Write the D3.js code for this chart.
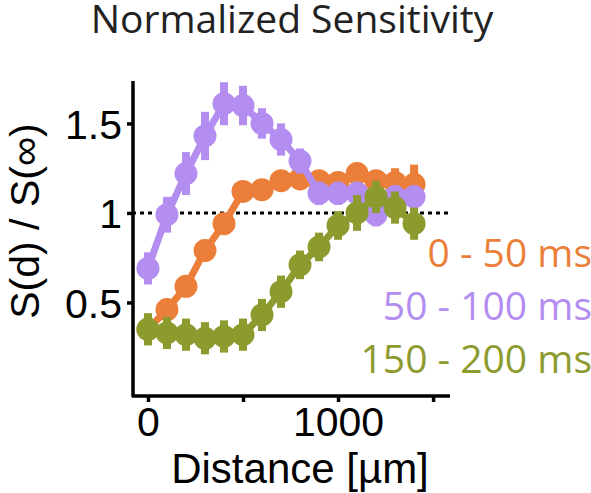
<!DOCTYPE html>
<html><head><meta charset="utf-8">
<script src="https://cdn.jsdelivr.net/npm/d3@7"></script>
<style>body{margin:0;background:#fff}svg{display:block}</style>
</head><body>
<svg id="c" width="591" height="493"></svg>
<script>
const distances = [0,100,200,300,400,500,600,700,800,900,1000,1100,1200,1300,1400];
const seriesNames = ["0 - 50 ms","50 - 100 ms","150 - 200 ms"];
const seriesColors = ["#EB7F3A","#B38DF0","#8C9A2E"];
const orangeVals = [0.35,0.46,0.59,0.79,0.94,1.12,1.13,1.18,1.19,1.18,1.17,1.22,1.18,1.17,1.16];
const orangeErr  = [0.05,0.05,0.06,0.06,0.06,0.05,0.05,0.05,0.05,0.05,0.05,0.06,0.06,0.08,0.11];
const purpleVals = [0.69,0.99,1.22,1.43,1.61,1.60,1.50,1.41,1.29,1.11,1.11,1.11,0.99,1.09,1.09];
const purpleErr  = [0.09,0.1,0.12,0.135,0.12,0.11,0.085,0.09,0.07,0.065,0.065,0.065,0.065,0.065,0.065];
const oliveVals  = [0.35,0.33,0.32,0.30,0.31,0.32,0.43,0.56,0.71,0.81,0.93,1.00,1.09,1.03,0.94];
const oliveErr   = [0.09,0.09,0.09,0.09,0.09,0.09,0.09,0.09,0.08,0.08,0.08,0.1,0.09,0.09,0.09];
const xTicks = [0,500,1000,1500];
const xTickLabels = ["0","","1000",""];
const yTicks = [0.5,1,1.5];
const yTickLabels = ["0.5","1","1.5"];

const svg = d3.select("#c");
const x = d3.scaleLinear().domain([-84,1589]).range([132,450]);
const y = d3.scaleLinear().domain([-0.017,1.737]).range([395,81]);

const series = [
  {name:seriesNames[0], color:seriesColors[0], v:orangeVals, e:orangeErr},
  {name:seriesNames[1], color:seriesColors[1], v:purpleVals, e:purpleErr},
  {name:seriesNames[2], color:seriesColors[2], v:oliveVals, e:oliveErr}
];

// reference line at 1
svg.append("line").attr("x1",x(-84)).attr("x2",x(1589)).attr("y1",y(1)).attr("y2",y(1))
  .attr("stroke","#000").attr("stroke-width",3).attr("stroke-dasharray","4,4");

const line = d3.line().x((d,i)=>x(distances[i])).y(d=>y(d));
series.forEach(s=>{
  const g = svg.append("g");
  g.append("path").attr("d",line(s.v)).attr("fill","none").attr("stroke",s.color).attr("stroke-width",7);
  g.selectAll("line.err").data(s.v).enter().append("line")
    .attr("x1",(d,i)=>x(distances[i])).attr("x2",(d,i)=>x(distances[i]))
    .attr("y1",(d,i)=>y(d - s.e[i])).attr("y2",(d,i)=>y(d + s.e[i]))
    .attr("stroke",s.color).attr("stroke-width",8);
  g.selectAll("circle").data(s.v).enter().append("circle")
    .attr("cx",(d,i)=>x(distances[i])).attr("cy",d=>y(d)).attr("r",11.5).attr("fill",s.color);
});

const axisFont = "'Liberation Sans', Arial, Helvetica, sans-serif";
// axes
const xAxis = d3.axisBottom(x).tickValues(xTicks).tickFormat((d,i)=>xTickLabels[i]).tickSize(6).tickPadding(5);
const gx = svg.append("g").attr("transform","translate(0,396)").call(xAxis);
gx.select(".domain").attr("d",`M${x(-84)},0H${x(1589)}`).attr("stroke-width",3.5);
gx.selectAll(".tick line").attr("stroke-width",3.5);
gx.selectAll("text").attr("font-family",axisFont).attr("font-size",41).attr("fill","#000");

const yAxis = d3.axisLeft(y).tickValues(yTicks).tickFormat((d,i)=>yTickLabels[i]).tickSize(6).tickPadding(5);
const gy = svg.append("g").attr("transform","translate(133,0)").call(yAxis);
gy.select(".domain").attr("d",`M0,${y(1.737)}V${y(-0.017)+2}`).attr("stroke-width",3.5);
gy.selectAll(".tick line").attr("stroke-width",3.5);
gy.selectAll("text").attr("font-family",axisFont).attr("font-size",41).attr("fill","#000").attr("dy","0.36em");

// labels
svg.append("text").attr("x",300).attr("y",483).attr("text-anchor","middle")
  .attr("font-family",axisFont).attr("font-size",42).text("Distance [µm]");
svg.append("text").attr("transform","translate(39,221) rotate(-90)").attr("text-anchor","middle")
  .attr("font-family",axisFont).attr("font-size",41).text("S(d) / S(∞)");
svg.append("text").attr("x",292).attr("y",33).attr("text-anchor","middle")
  .attr("font-family","'Open Sans', sans-serif").attr("font-size",39).attr("fill","#222").text("Normalized Sensitivity");

// legend
series.forEach((s,i)=>{
  svg.append("text").attr("x",592).attr("y",267+i*53).attr("text-anchor","end")
    .attr("font-family","'Open Sans', sans-serif").attr("font-size",39).attr("fill",s.color).text(s.name);
});
</script>
</body></html>
